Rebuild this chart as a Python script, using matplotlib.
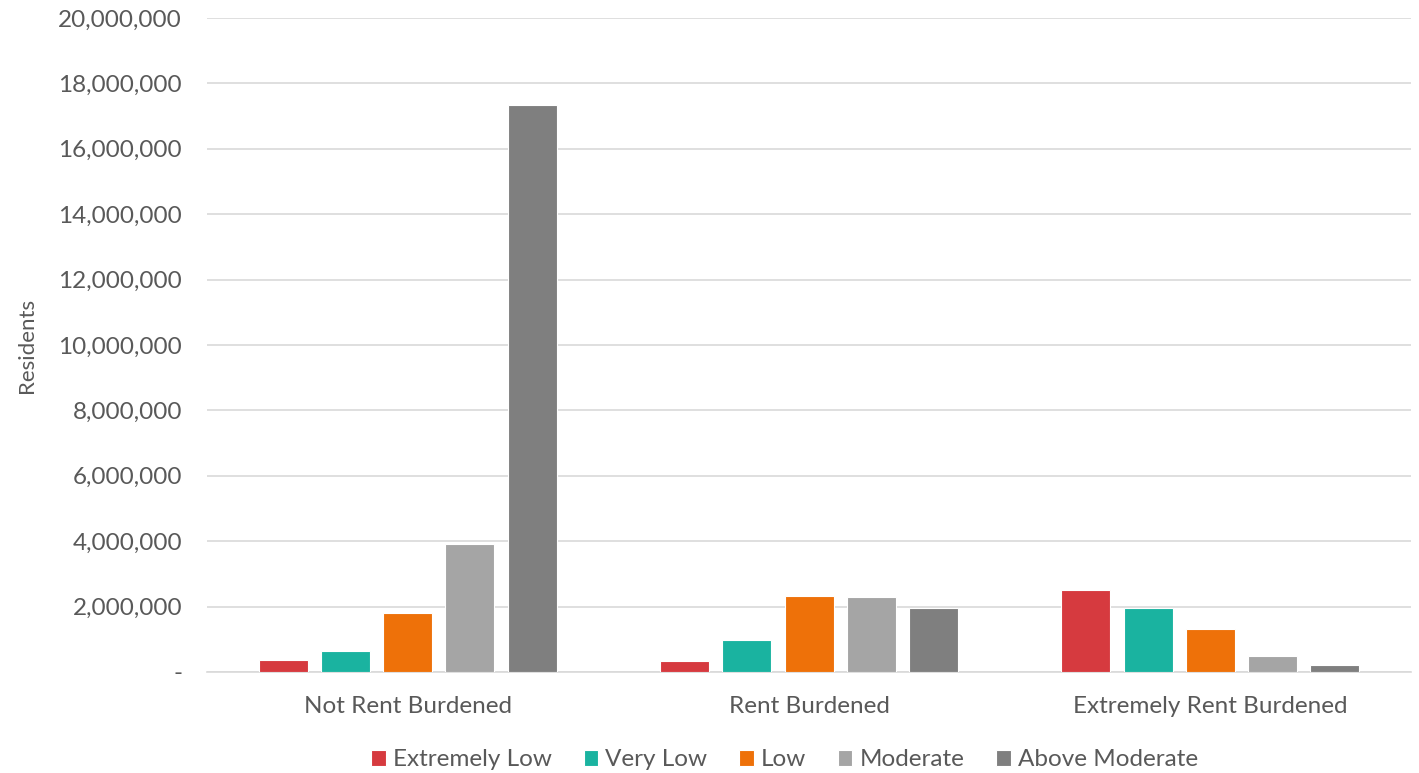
import numpy as np
import matplotlib
matplotlib.use("Agg")
import matplotlib.pyplot as plt
from matplotlib.ticker import FuncFormatter

plt.rcParams['font.family'] = ['Lato', 'DejaVu Sans']

categories = ['Not Rent Burdened', 'Rent Burdened', 'Extremely Rent Burdened']
series_names = ['Extremely Low', 'Very Low', 'Low', 'Moderate', 'Above Moderate']
extremely_low = [370000, 340000, 2510000]
very_low = [640000, 980000, 1960000]
low = [1800000, 2320000, 1310000]
moderate = [3910000, 2290000, 490000]
above_moderate = [17330000, 1960000, 210000]

colors = ['#D63A3F', '#1AB3A0', '#EE7109', '#A5A5A5', '#7F7F7F']
text_color = '#595959'

values = [extremely_low, very_low, low, moderate, above_moderate]

fig = plt.figure(figsize=(14.19, 7.73), dpi=100)
ax = fig.add_axes([0.1459, 0.1307, 0.8485, 0.846])

x = np.arange(len(categories))
bar_w = 0.122
step = 0.155
for i, (name, vals) in enumerate(zip(series_names, values)):
    offset = (i - 2) * step
    ax.bar(x + offset, vals, width=bar_w, color=colors[i], edgecolor='white',
           linewidth=0.8, label=name, zorder=3)

ax.set_xlim(-0.5, 2.5)
ax.set_ylim(0, 20000000)
ax.set_yticks(np.arange(0, 20000001, 2000000))
ax.yaxis.set_major_formatter(FuncFormatter(lambda v, p: '-' if v == 0 else f'{int(v):,}'))
ax.grid(axis='y', color='#D9D9D9', linewidth=1.2, zorder=0)
ax.set_xticks(x)
ax.set_xticklabels(categories, fontsize=17.5, color=text_color)
ax.tick_params(axis='y', labelsize=17.5, colors=text_color, length=0, pad=18)
ax.tick_params(axis='x', length=0, pad=17)
for s in ['top', 'right', 'left']:
    ax.spines[s].set_visible(False)
ax.spines['bottom'].set_color('#D9D9D9')
ax.spines['bottom'].set_linewidth(1.2)

ax.set_ylabel('Residents', fontsize=16, color=text_color)
ax.yaxis.set_label_coords(-0.141, 0.5)

leg = fig.legend(loc='lower center', bbox_to_anchor=(0.553, -0.025), ncol=5, frameon=False,
                 fontsize=17.5, handlelength=0.6, handleheight=0.6, handletextpad=0.3,
                 columnspacing=1.3)
for t in leg.get_texts():
    t.set_color(text_color)

fig.savefig('out.png', dpi=100)
